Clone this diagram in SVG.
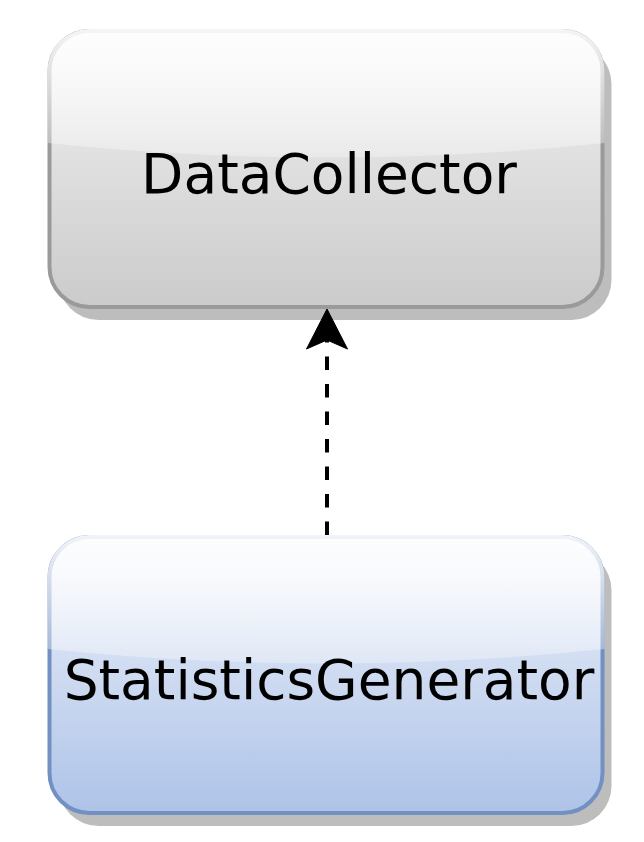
<svg xmlns="http://www.w3.org/2000/svg" width="644" height="842" viewBox="0 0 644 842">
<style>
.lbl{font-family:"DejaVu Sans",Verdana,sans-serif;font-size:55px;fill:#000;text-anchor:middle}
.shadow{fill:#bdbdbd}
</style>
<defs>
<linearGradient id="gGray" x1="0" y1="0" x2="0" y2="1">
<stop offset="0" stop-color="#f2f2f2"/>
<stop offset="1" stop-color="#cbcbcb"/>
</linearGradient>
<linearGradient id="gBlue" x1="0" y1="0" x2="0" y2="1">
<stop offset="0" stop-color="#eef2fa"/>
<stop offset="1" stop-color="#aec3e8"/>
</linearGradient>
<linearGradient id="glass" x1="0" y1="0" x2="0" y2="1">
<stop offset="0" stop-color="#fff" stop-opacity="0.9"/>
<stop offset="1" stop-color="#fff" stop-opacity="0.3"/>
</linearGradient>
</defs>
<g id="DataCollector">
<rect class="shadow" x="58.5" y="44" width="553" height="276" rx="40"/>
<rect x="49.5" y="31" width="553" height="276" rx="40" fill="url(#gGray)" stroke="#9a9a9a" stroke-width="4"/>
<path d="M89.5,29 H562.5 A42,42 0 0 1 604.5,71 V143 Q326,172 47.5,143 V71 A42,42 0 0 1 89.5,29 Z" fill="url(#glass)"/>
<text class="lbl" x="329" y="193">DataCollector</text>
</g>
<g id="StatisticsGenerator">
<rect class="shadow" x="58.5" y="550" width="553" height="276" rx="40"/>
<rect x="49.5" y="537" width="553" height="276" rx="40" fill="url(#gBlue)" stroke="#7290c2" stroke-width="4"/>
<path d="M89.5,535 H562.5 A42,42 0 0 1 604.5,577 V649 Q326,678 47.5,649 V577 A42,42 0 0 1 89.5,535 Z" fill="url(#glass)"/>
<text class="lbl" x="329" y="699">StatisticsGenerator</text>
</g>
<g id="connectors">
<line x1="327" y1="535" x2="327" y2="340" stroke="#000" stroke-width="4" stroke-dasharray="13.5,14"/>
<path d="M327,309 L347.5,349 L327,340 L306.5,349 Z" fill="#000" stroke="#000" stroke-width="1"/>
</g>
</svg>
